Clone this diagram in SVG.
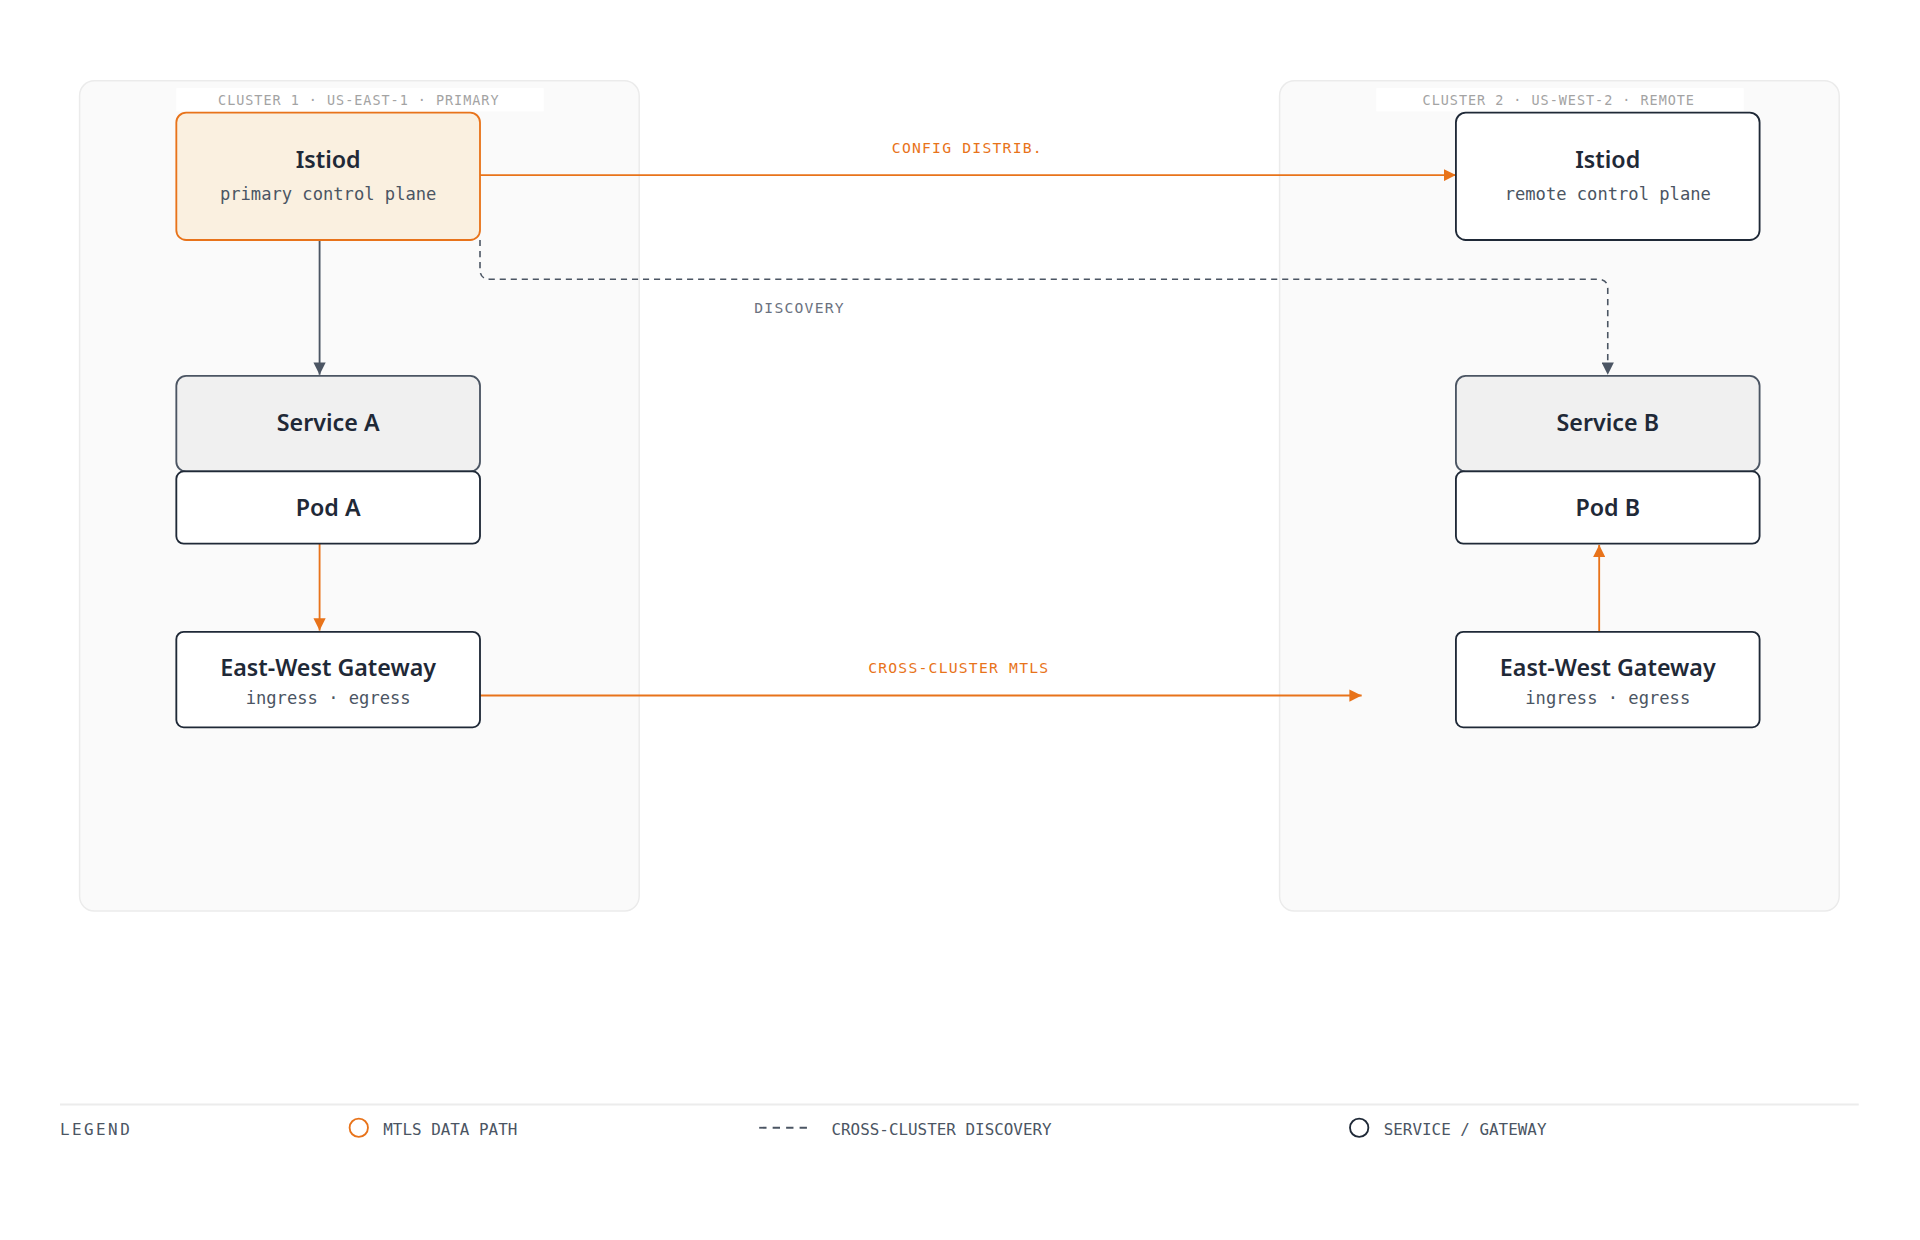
<svg xmlns="http://www.w3.org/2000/svg" width="1920" height="1240" viewBox="0 0 1920 1240">
<style>
.cl{fill:#fafafa;stroke:#ebebeb;stroke-width:1.2}
.cll{font-family:"DejaVu Sans Mono",monospace;font-size:11px;fill:#a3a3a3;letter-spacing:0.8px;text-anchor:middle}
.t{font-family:"Noto Sans","Open Sans",sans-serif;font-weight:600;font-size:19px;fill:#1f2937;text-anchor:middle}
.s{font-family:"DejaVu Sans Mono",monospace;font-size:14px;fill:#4b5563;text-anchor:middle}
.lbl{font-family:"DejaVu Sans Mono",monospace;font-size:12px;letter-spacing:1px;text-anchor:middle}
.lg{font-family:"DejaVu Sans Mono",monospace;font-size:13px;fill:#4b5563}
.w{fill:#fff;stroke:#1f2937;stroke-width:1.5}
</style>
<defs>
<marker id="ao" viewBox="0 0 10 10" refX="10" refY="5" markerWidth="10" markerHeight="10" markerUnits="userSpaceOnUse" orient="auto"><path d="M0,0L10,5L0,10z" fill="#e8731a"/></marker>
<marker id="ag" viewBox="0 0 10 10" refX="10" refY="5" markerWidth="10" markerHeight="10" markerUnits="userSpaceOnUse" orient="auto"><path d="M0,0L10,5L0,10z" fill="#4b5563"/></marker>
</defs>
<rect width="1920" height="1240" fill="#fff"/>
<g transform="scale(1.22449)">
<g id="cluster1"><rect class="cl" x="65" y="66" width="457" height="678" rx="12"/><rect x="144" y="72" width="300" height="19" fill="#fff"/><text class="cll" x="293" y="86">CLUSTER 1 · US-EAST-1 · PRIMARY</text></g>
<g id="cluster2"><rect class="cl" x="1045" y="66" width="457" height="678" rx="12"/><rect x="1124" y="72" width="300" height="19" fill="#fff"/><text class="cll" x="1273" y="86">CLUSTER 2 · US-WEST-2 · REMOTE</text></g>
<g id="connectors" fill="none">
<path d="M261,196V306" stroke="#4b5563" stroke-width="1.5" marker-end="url(#ag)"/>
<path d="M392,143H1189" stroke="#e8731a" stroke-width="1.5" marker-end="url(#ao)"/>
<path d="M392,196V220Q392,228 400,228H1305Q1313,228 1313,236V306" stroke="#4b5563" stroke-width="1.3" stroke-dasharray="5,4" marker-end="url(#ag)"/>
<path d="M261,444V515" stroke="#e8731a" stroke-width="1.5" marker-end="url(#ao)"/>
<path d="M392,568H1112" stroke="#e8731a" stroke-width="1.5" marker-end="url(#ao)"/>
<path d="M1306,516V445" stroke="#e8731a" stroke-width="1.5" marker-end="url(#ao)"/>
<text class="lbl" x="790" y="125" fill="#e8731a">CONFIG DISTRIB.</text>
<text class="lbl" x="653" y="256" fill="#6b7280">DISCOVERY</text>
<text class="lbl" x="783" y="550" fill="#e8731a">CROSS-CLUSTER MTLS</text>
</g>
<g id="istiod1"><rect x="144" y="92" width="248" height="104" rx="8" fill="#faf0e0" stroke="#e8731a" stroke-width="1.5"/><text class="t" x="268" y="137">Istiod</text><text class="s" x="268" y="163">primary control plane</text></g>
<g id="istiod2"><rect class="w" x="1189" y="92" width="248" height="104" rx="8"/><text class="t" x="1313" y="137">Istiod</text><text class="s" x="1313" y="163">remote control plane</text></g>
<g id="serviceA"><rect x="144" y="307" width="248" height="78" rx="8" fill="#f0f0f0" stroke="#4b5563" stroke-width="1.5"/><text class="t" x="268" y="352">Service A</text></g>
<g id="podA"><rect class="w" x="144" y="385" width="248" height="59" rx="6"/><text class="t" x="268" y="421">Pod A</text></g>
<g id="gwA"><rect class="w" x="144" y="516" width="248" height="78" rx="6"/><text class="t" x="268" y="552">East-West Gateway</text><text class="s" x="268" y="575">ingress · egress</text></g>
<g id="serviceB"><rect x="1189" y="307" width="248" height="78" rx="8" fill="#f0f0f0" stroke="#4b5563" stroke-width="1.5"/><text class="t" x="1313" y="352">Service B</text></g>
<g id="podB"><rect class="w" x="1189" y="385" width="248" height="59" rx="6"/><text class="t" x="1313" y="421">Pod B</text></g>
<g id="gwB"><rect class="w" x="1189" y="516" width="248" height="78" rx="6"/><text class="t" x="1313" y="552">East-West Gateway</text><text class="s" x="1313" y="575">ingress · egress</text></g>
<g id="legend">
<line x1="49" y1="902" x2="1518" y2="902" stroke="#ececec" stroke-width="1.5"/>
<text class="lg" x="49" y="927" letter-spacing="2" fill="#6b7280">LEGEND</text>
<circle cx="293" cy="921" r="7.5" fill="none" stroke="#e8731a" stroke-width="1.5"/>
<text class="lg" x="313" y="927">MTLS DATA PATH</text>
<line x1="620" y1="921" x2="662" y2="921" stroke="#4b5563" stroke-width="1.5" stroke-dasharray="6,5"/>
<text class="lg" x="679" y="927">CROSS-CLUSTER DISCOVERY</text>
<circle cx="1110" cy="921" r="7.5" fill="none" stroke="#1f2937" stroke-width="1.5"/>
<text class="lg" x="1130" y="927">SERVICE / GATEWAY</text>
</g>
</g>
</svg>
